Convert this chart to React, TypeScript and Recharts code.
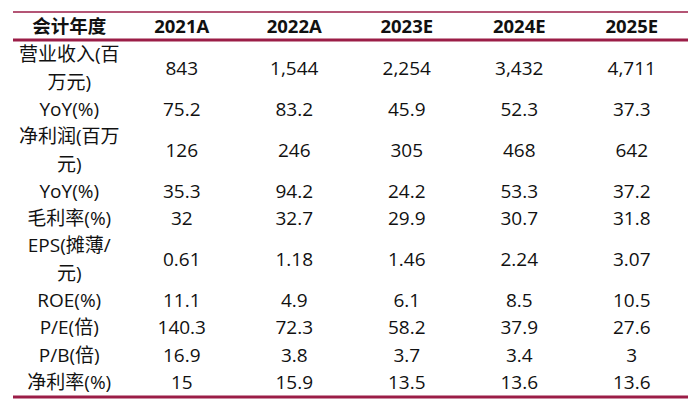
import { ScatterChart, Scatter, XAxis, YAxis, ReferenceLine } from 'recharts';

const headerLabel = '会计年度';
const years = ['2021A', '2022A', '2023E', '2024E', '2025E'];

const rowLabels = [
    ['营业收入(百', '万元)'],
    ['YoY(%)'],
    ['净利润(百万', '元)'],
    ['YoY(%)'],
    ['毛利率(%)'],
    ['EPS(摊薄/', '元)'],
    ['ROE(%)'],
    ['P/E(倍)'],
    ['P/B(倍)'],
    ['净利率(%)'],
];

const revenue = [843, 1544, 2254, 3432, 4711];
const revenueYoy = [75.2, 83.2, 45.9, 52.3, 37.3];
const netProfit = [126, 246, 305, 468, 642];
const netProfitYoy = [35.3, 94.2, 24.2, 53.3, 37.2];
const grossMargin = [32, 32.7, 29.9, 30.7, 31.8];
const eps = [0.61, 1.18, 1.46, 2.24, 3.07];
const roe = [11.1, 4.9, 6.1, 8.5, 10.5];
const pe = [140.3, 72.3, 58.2, 37.9, 27.6];
const pb = [16.9, 3.8, 3.7, 3.4, 3];
const netMargin = [15, 15.9, 13.5, 13.6, 13.6];

const rowValues = [
    revenue.map((v) => v.toLocaleString('en-US')),
    revenueYoy.map(String),
    netProfit.map(String),
    netProfitYoy.map(String),
    grossMargin.map(String),
    eps.map(String),
    roe.map(String),
    pe.map(String),
    pb.map(String),
    netMargin.map(String),
];

const RULE = '#9b1d47';
const FONT = '"Open Sans", "Noto Sans CJK SC", sans-serif';

type Cell = { x: number; y: number; text: string; bold?: boolean };

// header row sits one line above the first body line; two-line labels take two lines
const buildCells = () => {
    const cells: Cell[] = [];
    cells.push({ x: 0, y: -1.04, text: headerLabel, bold: true });
    years.forEach((yr, i) => cells.push({ x: i + 1, y: -1.04, text: yr, bold: true }));
    let line = 0;
    rowLabels.forEach((lines, r) => {
        const center = line + (lines.length - 1) / 2;
        lines.forEach((t, k) => cells.push({ x: 0, y: line + k, text: t }));
        rowValues[r].forEach((v, i) => cells.push({ x: i + 1, y: center, text: v }));
        line += lines.length;
    });
    return { cells, total: line };
};

const { cells, total } = buildCells();

const CellText = (props: any) => {
    const { cx, cy, payload } = props;
    return (
        <text
            x={cx}
            y={cy}
            textAnchor="middle"
            dominantBaseline="central"
            fontFamily={FONT}
            fontSize={payload.bold ? 18.5 : 19}
            fontWeight={payload.bold ? 700 : 400}
            fill="#111"
        >
            {payload.text}
        </text>
    );
};

const App = () => {
    return (
        <div style={{ position: 'absolute', left: 0, top: 0, background: '#fff' }}>
            <ScatterChart
                width={700}
                height={410}
                margin={{ top: 12, right: 12, bottom: 13, left: 13 }}
            >
                <XAxis type="number" dataKey="x" domain={[-0.5, 5.5]} hide />
                <YAxis
                    type="number"
                    dataKey="y"
                    domain={[-1.55, total - 0.5 + 0.05]}
                    reversed
                    hide
                    allowDataOverflow
                />
                <ReferenceLine y={-1.55} stroke={RULE} strokeWidth={1.5} />
                <ReferenceLine y={-0.52} stroke={RULE} strokeWidth={3} />
                <ReferenceLine y={total - 0.45} stroke={RULE} strokeWidth={3} />
                <Scatter data={cells} shape={CellText} isAnimationActive={false} />
            </ScatterChart>
        </div>
    );
};

export default App;
